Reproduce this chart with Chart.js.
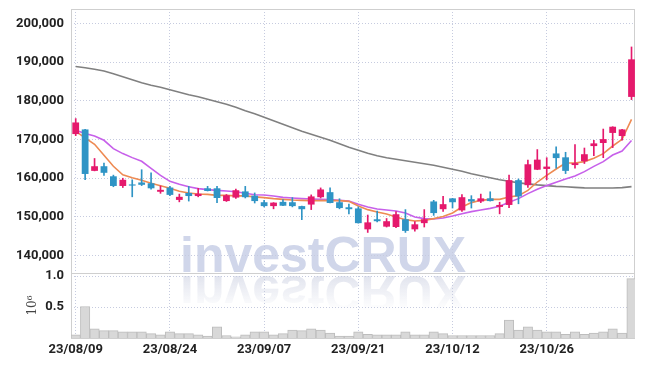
<!DOCTYPE html>
<html>
<head>
<meta charset="utf-8">
<script src="https://cdn.jsdelivr.net/npm/chart.js@4.4.0/dist/chart.umd.min.js"></script>
<style>
html, body { margin: 0; padding: 0; background: #fff; }
#wrap { width: 645px; height: 366px; }
</style>
</head>
<body>
<div id="wrap"><canvas id="stockChart" width="645" height="366"></canvas></div>
<script>
// --- DATA ---
const dates = [
    '23/08/09', '23/08/10', '23/08/11', '23/08/14', '23/08/16', '23/08/17', '23/08/18', '23/08/21', '23/08/22', '23/08/23',
    '23/08/24', '23/08/25', '23/08/28', '23/08/29', '23/08/30', '23/08/31', '23/09/01', '23/09/04', '23/09/05', '23/09/06',
    '23/09/07', '23/09/08', '23/09/11', '23/09/12', '23/09/13', '23/09/14', '23/09/15', '23/09/18', '23/09/19', '23/09/20',
    '23/09/21', '23/09/22', '23/09/25', '23/09/26', '23/09/27', '23/10/04', '23/10/05', '23/10/06', '23/10/10', '23/10/11',
    '23/10/12', '23/10/13', '23/10/16', '23/10/17', '23/10/18', '23/10/19', '23/10/20', '23/10/23', '23/10/24', '23/10/25',
    '23/10/26', '23/10/27', '23/10/30', '23/10/31', '23/11/01', '23/11/02', '23/11/03', '23/11/06', '23/11/07', '23/11/08'
];

const open = [
    171400, 172600, 161900, 163100, 160500, 158000, 158400, 158900, 158700, 156500,
    157600, 154400, 156200, 155400, 157400, 157400, 154100, 155000, 156600, 155500,
    153800, 152800, 153900, 153800, 152800, 153200, 155100, 156400, 153800, 152500,
    152200, 146800, 149400, 147500, 147400, 149400, 146800, 148400, 154000, 152000,
    154800, 151700, 154600, 154000, 154800, 152600, 153100, 159500, 158200, 162200,
    162400, 166400, 165400, 163400, 164400, 168300, 169100, 171700, 170900, 181000
];
const close = [
    174400, 161100, 163100, 161400, 158000, 159600, 158100, 158300, 157400, 157000,
    155700, 155200, 155400, 156000, 156700, 154900, 155600, 156900, 155100, 154100,
    152800, 153700, 152900, 152800, 152000, 155300, 157100, 153600, 152300, 152000,
    148400, 148600, 148900, 148900, 150700, 146400, 148100, 149400, 151000, 153300,
    153800, 155100, 154000, 154800, 154100, 153100, 159500, 155300, 163600, 164800,
    163000, 165200, 161900, 163900, 166200, 169000, 170100, 173300, 172600, 190700
];
const high = [
    175400, 172600, 165100, 163900, 160800, 160000, 159600, 162200, 161400, 158000,
    157900, 155900, 157900, 157400, 157900, 157900, 155800, 157200, 157900, 156200,
    154300, 153700, 154500, 155000, 152800, 155700, 157500, 157500, 154700, 153300,
    152600, 150500, 151500, 149600, 151400, 151900, 148800, 151900, 154300, 155300,
    154800, 155800, 155500, 155900, 156500, 153800, 160800, 159800, 164700, 167400,
    165300, 168100, 166700, 168700, 167800, 169800, 172700, 173300, 172600, 193900
];
const low = [
    171000, 159600, 161900, 160700, 157800, 157600, 155200, 158100, 157200, 156100,
    155500, 153900, 154100, 155200, 156700, 153700, 154000, 154800, 154900, 153600,
    152600, 152100, 152900, 152600, 149300, 151900, 154900, 153600, 152100, 150800,
    148400, 146000, 148700, 147400, 147200, 146000, 146300, 147400, 150400, 151400,
    152300, 151400, 152300, 153700, 154100, 150800, 152400, 153400, 157600, 162200,
    159600, 162600, 161200, 162600, 163800, 165800, 165300, 167900, 169800, 180300
];

// volume in millions of shares
const volume = [
    0.05, 0.51, 0.15, 0.12, 0.12, 0.10, 0.10, 0.10, 0.07, 0.05,
    0.10, 0.07, 0.07, 0.05, 0.03, 0.18, 0.04, 0.02, 0.05, 0.10,
    0.10, 0.05, 0.07, 0.13, 0.12, 0.15, 0.13, 0.08, 0.03, 0.03,
    0.10, 0.06, 0.05, 0.05, 0.05, 0.10, 0.05, 0.05, 0.10, 0.07,
    0.04, 0.04, 0.04, 0.04, 0.04, 0.07, 0.29, 0.13, 0.18, 0.13,
    0.10, 0.10, 0.06, 0.10, 0.06, 0.08, 0.10, 0.15, 0.08, 0.96
];

// moving average lines (orange = short, purple = mid, gray = long)
const maShort = [
    172120, 170440, 168760, 165920, 163080, 160880, 160100, 159460, 158680, 158040,
    157390, 156620, 156180, 155920, 155840, 155580, 155580, 155450, 155450, 155190,
    154980, 154730, 154550, 154370, 154290, 154210, 154210, 154210, 154210, 154030,
    152820, 151890, 151270, 150750, 149970, 149300, 148940, 149120, 149560, 150100,
    151010, 152560, 153700, 154290, 154550, 154550, 155150, 155500, 156870, 159020,
    160750, 162380, 163930, 163930, 164290, 165140, 166360, 168320, 170050, 175220
];
const maMid = [
    172380, 171530, 170900, 169800, 167650, 166360, 165320, 164370, 162560, 160750,
    159200, 158420, 157780, 157310, 157050, 156870, 156690, 156490, 156100, 155750,
    155660, 155400, 155060, 154880, 154730, 154620, 154550, 154470, 154290, 154110,
    153260, 152560, 152040, 151780, 151520, 151010, 149970, 149560, 149460, 149720,
    150230, 150850, 151370, 151790, 152220, 152740, 153770, 154730, 156020, 157130,
    158090, 158940, 159790, 160570, 161710, 163070, 164290, 165990, 167030, 169720
];
const maLong = [
    188840, 188530, 188140, 187670, 186980, 186200, 185430, 184650, 184000, 183490,
    182840, 182200, 181550, 181030, 180390, 179740, 179100, 178320, 177420, 176640,
    175740, 174830, 173930, 173020, 172120, 171340, 170570, 169790, 168890, 167980,
    167210, 166430, 165790, 165270, 164880, 164500, 164110, 163720, 163330, 162820,
    162300, 161780, 161140, 160620, 160100, 159590, 159200, 158810, 158550, 158290,
    158090, 157900, 157780, 157650, 157520, 157470, 157470, 157490, 157570, 157830
];

const priceTicks = [140000, 150000, 160000, 170000, 180000, 190000, 200000];
const volumeTicks = [0.5, 1.0];
const dateTickIdx = [0, 10, 20, 30, 40, 50];

// --- STYLE ---
const UP_COLOR = '#e5196c';
const DOWN_COLOR = '#2f94c5';
const GRID_COLOR = '#c6cbdf';
const FRAME_COLOR = '#cfcfcf';
const TICK_FONT = { family: 'Roboto, "Liberation Sans", sans-serif', size: 13, weight: 'bold' };

const candleColors = open.map((o, i) => (close[i] >= o ? UP_COLOR : DOWN_COLOR));
const toXY = arr => arr.map((v, i) => ({ x: i, y: v }));

// watermark drawn under the grid, with its mirror image
const watermarkPlugin = {
    id: 'watermark',
    beforeDraw(chart) {
        const { ctx, chartArea } = chart;
        const base = chart.scales.y.bottom - 1;
        const x = chartArea.left + 109;
        ctx.save();
        ctx.font = 'bold 50px "Liberation Sans", Arial, sans-serif';
        ctx.textBaseline = 'alphabetic';
        ctx.fillStyle = 'rgb(208, 214, 234)';
        ctx.fillText('investCRUX', x, base);

        // reflection
        const mirror = base + 1.8;
        ctx.translate(0, mirror * 2);
        ctx.scale(1, -1);
        const grad = ctx.createLinearGradient(0, mirror, 0, mirror - 36);
        grad.addColorStop(0, 'rgba(222, 225, 236, 0.95)');
        grad.addColorStop(1, 'rgba(222, 225, 236, 0)');
        ctx.fillStyle = grad;
        ctx.fillText('investCRUX', x, mirror - 1.8);
        ctx.restore();
    }
};

// plot frame + separator between price and volume panels
const framePlugin = {
    id: 'frame',
    beforeDatasetsDraw(chart) {
        const { ctx, chartArea } = chart;
        const sep = Math.round(chart.scales.y.bottom) + 0.5;
        ctx.save();
        ctx.strokeStyle = FRAME_COLOR;
        ctx.lineWidth = 1;
        ctx.setLineDash([]);
        ctx.strokeRect(Math.round(chartArea.left) + 0.5, Math.round(chartArea.top) + 0.5,
            Math.round(chartArea.right - chartArea.left) - 1, Math.round(chartArea.bottom - chartArea.top));
        ctx.beginPath();
        ctx.moveTo(chartArea.left, sep);
        ctx.lineTo(chartArea.right, sep);
        ctx.stroke();
        ctx.restore();
    }
};

// same width for both stacked y axes, and no extra room for edge labels
const fixedWidth = axis => {
    axis.width = 71;
    axis.paddingTop = 0;
    axis.paddingBottom = 0;
};

const ctx = document.getElementById('stockChart').getContext('2d');
new Chart(ctx, {
    type: 'bar',
    data: {
        datasets: [
            {
                label: 'body',
                data: open.map((o, i) => ({ x: i, y: [o, close[i]] })),
                backgroundColor: candleColors,
                borderWidth: 0,
                barPercentage: 0.72,
                categoryPercentage: 1,
                grouped: false,
                yAxisID: 'y',
                order: 0
            },
            {
                label: 'wick',
                data: low.map((l, i) => ({ x: i, y: [l, high[i]] })),
                backgroundColor: candleColors,
                borderWidth: 0,
                barThickness: 1,
                grouped: false,
                yAxisID: 'y',
                order: 1
            },
            {
                type: 'line',
                label: 'MA short',
                data: toXY(maShort),
                borderColor: '#ee8a52',
                borderWidth: 1.6,
                pointRadius: 0,
                tension: 0,
                yAxisID: 'y',
                order: 2
            },
            {
                type: 'line',
                label: 'MA mid',
                data: toXY(maMid),
                borderColor: '#c760ea',
                borderWidth: 1.6,
                pointRadius: 0,
                tension: 0,
                yAxisID: 'y',
                order: 3
            },
            {
                type: 'line',
                label: 'MA long',
                data: toXY(maLong),
                borderColor: '#808080',
                borderWidth: 1.6,
                pointRadius: 0,
                tension: 0,
                yAxisID: 'y',
                order: 4
            },
            {
                label: 'volume',
                data: toXY(volume),
                backgroundColor: '#d8d8d8',
                borderColor: '#bdbdbd',
                borderWidth: 1,
                barPercentage: 1,
                categoryPercentage: 1,
                grouped: false,
                yAxisID: 'yVol',
                order: 5
            }
        ]
    },
    options: {
        responsive: false,
        animation: false,
        layout: { padding: { top: 9, right: 10, left: 0, bottom: 0 } },
        plugins: {
            legend: { display: false },
            tooltip: { enabled: false }
        },
        scales: {
            x: {
                type: 'linear',
                offset: false,
                min: -0.5,
                max: 59.37,
                afterBuildTicks: axis => { axis.ticks = dateTickIdx.map(v => ({ value: v })); },
                afterFit: axis => { axis.height = 28; },
                grid: { color: GRID_COLOR, drawTicks: false, offset: false },
                border: { display: false, dash: [1, 2] },
                ticks: {
                    autoSkip: false,
                    maxRotation: 0,
                    padding: 4,
                    color: '#222',
                    font: TICK_FONT,
                    callback: v => dates[v]
                }
            },
            // left boxes are placed in reverse order, so the volume panel is declared first
            yVol: {
                type: 'linear',
                position: 'left',
                stack: 'panels',
                stackWeight: 64.8,
                min: 0,
                max: 1.05,
                afterBuildTicks: axis => { axis.ticks = volumeTicks.map(v => ({ value: v })); },
                afterFit: fixedWidth,
                grid: { color: GRID_COLOR, drawTicks: false },
                border: { display: false, dash: [1, 2] },
                title: {
                    display: true,
                    text: '10⁶',
                    color: '#444',
                    font: { family: '"DejaVu Serif", serif', size: 12 },
                    padding: { top: 26, bottom: 0 }
                },
                ticks: {
                    padding: 7,
                    color: '#222',
                    font: TICK_FONT,
                    callback: v => v.toFixed(1)
                }
            },
            y: {
                type: 'linear',
                position: 'left',
                stack: 'panels',
                stackWeight: 263.7,
                min: 135500,
                max: 203700,
                afterBuildTicks: axis => { axis.ticks = priceTicks.map(v => ({ value: v })); },
                afterFit: fixedWidth,
                grid: { color: GRID_COLOR, drawTicks: false },
                border: { display: false, dash: [1, 2] },
                ticks: {
                    padding: 7,
                    color: '#222',
                    font: TICK_FONT,
                    callback: v => v.toLocaleString('en-US')
                }
            }
        }
    },
    plugins: [watermarkPlugin, framePlugin]
});
</script>
</body>
</html>
